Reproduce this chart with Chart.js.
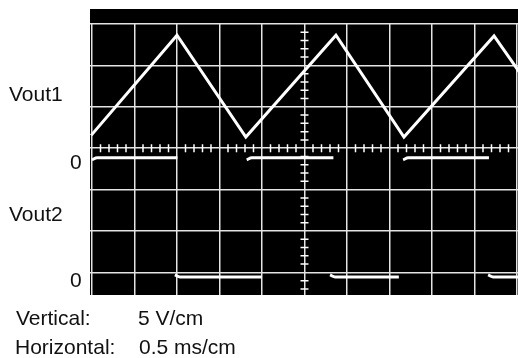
<!DOCTYPE html>
<html lang="en">
<head>
  <meta charset="UTF-8">
  <title>Vout1 / Vout2</title>
  <script src="https://cdn.jsdelivr.net/npm/chart.js"></script>
  <style>
    body {
      margin: 0;
      background: #fff;
      font-family: "Liberation Sans", Arial, sans-serif;
    }
    #wrap {
      position: relative;
      width: 518px;
      height: 358px;
    }
    #wrap canvas {
      position: absolute;
      left: 0;
      top: 0;
    }
    .lbl {
      position: absolute;
      font-size: 21px;
      line-height: 21px;
      color: #111;
      white-space: nowrap;
    }
  </style>
</head>
<body>
  <div id="wrap">
    <canvas id="scope" width="518" height="358"></canvas>
    <div class="lbl" style="left:9px; top:83px">Vout1</div>
    <div class="lbl" style="left:70px; top:151px">0</div>
    <div class="lbl" style="left:9px; top:203px">Vout2</div>
    <div class="lbl" style="left:70px; top:269px">0</div>
    <div class="lbl" style="left:16px; top:307px">Vertical:</div>
    <div class="lbl" style="left:138px; top:307px">5 V/cm</div>
    <div class="lbl" style="left:15px; top:336px">Horizontal:</div>
    <div class="lbl" style="left:139px; top:336px">0.5 ms/cm</div>
  </div>

  <script>
    // time in ms (0.5 ms per division), level in screen divisions (0 = centre line)
    const triTime  = [-0.01, 1.00, 1.81, 2.87, 3.67, 4.73, 5.03];
    const triLevel = [0.31, 2.73, 0.27, 2.73, 0.27, 2.71, 1.83];

    // square wave: the edges are not traced, only the flat parts
    const sqStart = [0.00, 0.975, 1.82, 2.80, 3.66, 4.66];
    const sqEnd   = [1.005, 1.995, 2.84, 3.61, 4.67, 5.03];
    const sqLevel = [-0.23, -3.11, -0.23, -3.11, -0.23, -3.11];
    const sqHook  = [-0.28, -3.06, -0.28, -3.06, -0.28, -3.06];
    const hookLen = 0.06;

    const xGrid = [0, 0.5, 1, 1.5, 2, 2.5, 3, 3.5, 4, 4.5, 5];
    const yGrid = [-3, -2, -1, 0, 1, 2, 3];

    const triData = triTime.map((t, i) => ({ x: t, y: triLevel[i] }));
    const sqData = [];
    sqStart.forEach((t, i) => {
      sqData.push({ x: t, y: sqHook[i] });
      sqData.push({ x: t + hookLen, y: sqLevel[i] });
      sqData.push({ x: sqEnd[i], y: sqLevel[i] });
      sqData.push({ x: sqEnd[i], y: null });
    });

    const scopeBg = {
      id: 'scopeBg',
      beforeDraw(chart, args, opts) {
        const { ctx, chartArea: a } = chart;
        ctx.save();
        ctx.fillStyle = opts.color;
        ctx.fillRect(a.left, a.top - opts.extraTop, a.right - a.left, a.bottom - a.top + opts.extraTop);
        ctx.restore();
      }
    };

    // small graduation marks along the two centre lines
    const scopeTicks = {
      id: 'scopeTicks',
      beforeDatasetsDraw(chart, args, opts) {
        const { ctx, scales: { x, y } } = chart;
        const cx = x.getPixelForValue(opts.xAxisAt);
        const cy = y.getPixelForValue(opts.yAxisAt);
        const h = opts.len / 2;
        ctx.save();
        ctx.strokeStyle = opts.color;
        ctx.lineWidth = opts.width;
        ctx.beginPath();
        for (let k = 1; 3 - k * 0.2 >= y.min; k++) {
          if (k % 5 === 0) continue;
          const py = y.getPixelForValue(3 - k * 0.2);
          ctx.moveTo(cx - h, py);
          ctx.lineTo(cx + h, py);
        }
        for (let k = 1; k * 0.1 <= x.max; k++) {
          if (k % 5 === 0) continue;
          const px = x.getPixelForValue(k * 0.1);
          ctx.moveTo(px, cy - h);
          ctx.lineTo(px, cy + h);
        }
        ctx.stroke();
        ctx.restore();
      }
    };

    const gridStyle = { color: '#e4e4e4', lineWidth: 1.5, drawTicks: false };

    new Chart(document.getElementById('scope'), {
      type: 'line',
      data: {
        datasets: [
          {
            label: 'Vout1',
            data: triData,
            borderColor: '#ffffff',
            borderWidth: 3,
            borderJoinStyle: 'miter',
            pointRadius: 0,
            tension: 0
          },
          {
            label: 'Vout2',
            data: sqData,
            borderColor: '#ffffff',
            borderWidth: 3,
            pointRadius: 0,
            spanGaps: false,
            cubicInterpolationMode: 'monotone'
          }
        ]
      },
      options: {
        responsive: false,
        animation: false,
        events: [],
        layout: { padding: { left: 90, right: 0, top: 24, bottom: 63 } },
        scales: {
          x: {
            type: 'linear',
            min: -0.0235,
            max: 5.0118,
            ticks: { display: false },
            grid: gridStyle,
            border: { display: false },
            afterBuildTicks: s => { s.ticks = xGrid.map(v => ({ value: v })); },
            afterFit: s => { s.height = 0; }
          },
          y: {
            type: 'linear',
            min: -3.546,
            max: 3,
            ticks: { display: false },
            grid: gridStyle,
            border: { display: false },
            afterBuildTicks: s => { s.ticks = yGrid.map(v => ({ value: v })); },
            afterFit: s => { s.width = 0; }
          }
        },
        plugins: {
          legend: { display: false },
          tooltip: { enabled: false },
          scopeBg: { color: '#000000', extraTop: 15 },
          scopeTicks: { xAxisAt: 2.5, yAxisAt: 0, len: 8, width: 1.5, color: '#ffffff' }
        }
      },
      plugins: [scopeBg, scopeTicks]
    });
  </script>
</body>
</html>
